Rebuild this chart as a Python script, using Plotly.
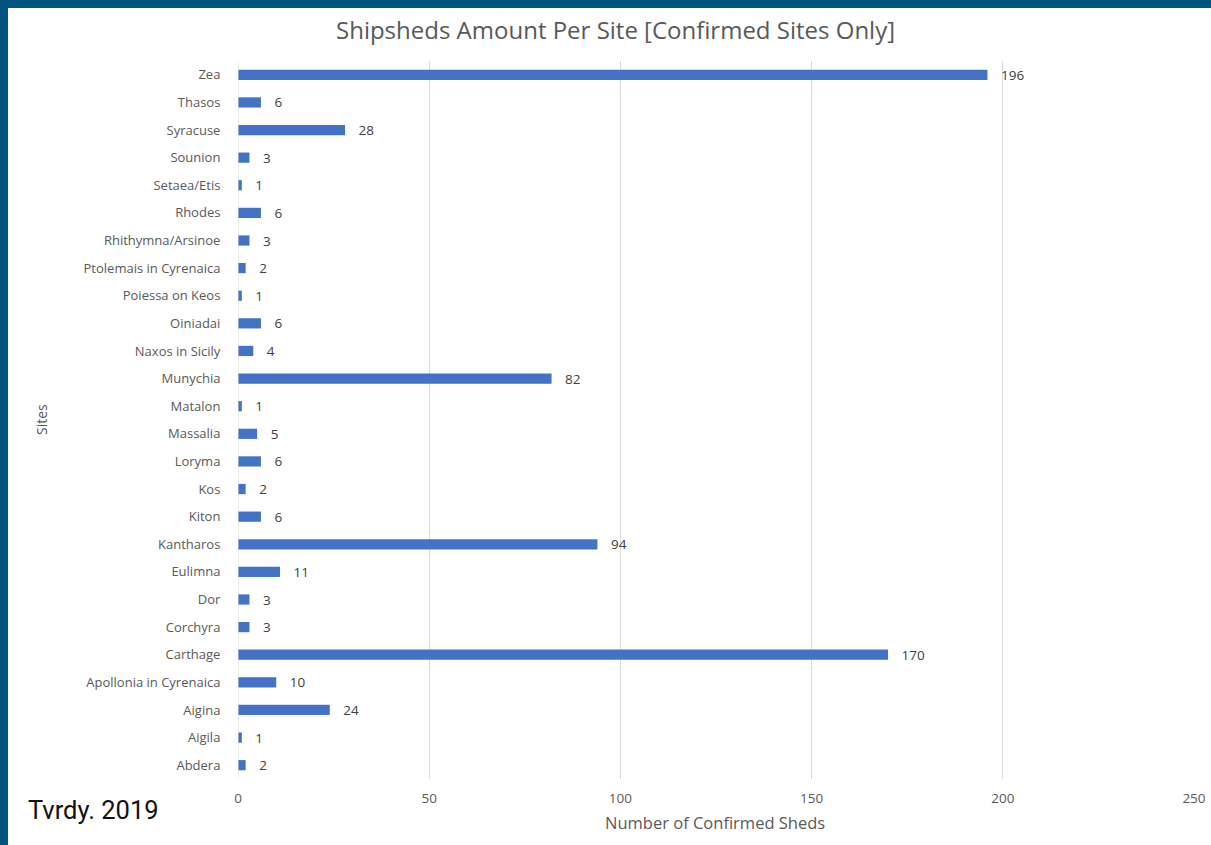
import plotly.graph_objects as go

sites = ["Abdera", "Aigila", "Aigina", "Apollonia in Cyrenaica", "Carthage", "Corchyra", "Dor",
         "Eulimna", "Kantharos", "Kiton", "Kos", "Loryma", "Massalia", "Matalon", "Munychia",
         "Naxos in Sicily", "Oiniadai", "Poiessa on Keos", "Ptolemais in Cyrenaica",
         "Rhithymna/Arsinoe", "Rhodes", "Setaea/Etis", "Sounion", "Syracuse", "Thasos", "Zea"]
sheds = [2, 1, 24, 10, 170, 3, 3, 11, 94, 6, 2, 6, 5, 1, 82, 4, 6, 1, 2, 3, 6, 1, 3, 28, 6, 196]
x_ticks = [0, 50, 100, 150, 200, 250]

W, H = 1211, 845
ML, MR, MT, MB = 238, 17, 61, 66
pw = W - ML - MR
ph = H - MT - MB
FONT = "Open Sans, DejaVu Sans, sans-serif"
GREY = "#595959"
PAD = "\u00a0\u00a0\u00a0"

fig = go.Figure(go.Bar(
    y=sites, x=sheds, orientation="h",
    marker=dict(color="#4472C4", line=dict(width=0)),
    width=0.37,
    text=[PAD + str(v) for v in sheds], textposition="outside",
    constraintext="none",
    textfont=dict(family=FONT, size=13.5, color="#404040"),
    cliponaxis=False,
))

def px_x(p):
    return (p - ML) / pw

def px_y(p):
    return 1 - (p - MT) / ph

border = "#01527F"
fig.update_layout(
    width=W, height=H,
    margin=dict(l=ML, r=MR, t=MT, b=MB, pad=0, autoexpand=False),
    paper_bgcolor="white", plot_bgcolor="white",
    showlegend=False,
    font=dict(family=FONT, color=GREY),
    xaxis=dict(range=[0, 250.01], tickvals=x_ticks, showgrid=True, gridcolor="#d9d9d9", gridwidth=1,
               zeroline=False, showline=False, ticks="outside", ticklen=7, tickcolor="rgba(0,0,0,0)",
               automargin=False, ticklabeloverflow="allow",
               tickfont=dict(size=13.5, color=GREY, family=FONT)),
    yaxis=dict(type="category", categoryorder="array", categoryarray=sites,
               range=[-0.5, len(sites) - 0.5], automargin=False,
               showgrid=False, zeroline=False, showline=False,
               ticks="outside", ticklen=14, tickcolor="rgba(0,0,0,0)",
               tickfont=dict(size=13, color=GREY, family=FONT)),
    shapes=[
        dict(type="line", xref="x", yref="paper", x0=0, x1=0, y0=0, y1=1,
             line=dict(color="#d9d9d9", width=1)),
        dict(type="rect", xref="paper", yref="paper", x0=px_x(0), x1=px_x(W), y0=px_y(8), y1=px_y(0),
             fillcolor=border, line=dict(width=0), layer="above"),
        dict(type="rect", xref="paper", yref="paper", x0=px_x(0), x1=px_x(8), y0=px_y(H), y1=px_y(0),
             fillcolor=border, line=dict(width=0), layer="above"),
    ],
    annotations=[
        dict(text="Shipsheds Amount Per Site [Confirmed Sites Only]", xref="paper", yref="paper",
             x=px_x(615), y=px_y(30), xanchor="center", yanchor="middle", showarrow=False,
             font=dict(size=24, color=GREY, family=FONT)),
        dict(text="Number of Confirmed Sheds", xref="paper", yref="paper",
             x=px_x(715), y=px_y(822), xanchor="center", yanchor="middle", showarrow=False,
             font=dict(size=16.5, color=GREY, family=FONT)),
        dict(text="Sites", xref="paper", yref="paper", textangle=-90,
             x=px_x(41), y=px_y(420), xanchor="center", yanchor="middle", showarrow=False,
             font=dict(size=14, color=GREY, family=FONT)),
        dict(text="Tvrdy. 2019", xref="paper", yref="paper",
             x=px_x(26), y=px_y(810), xanchor="left", yanchor="middle", showarrow=False,
             font=dict(size=25.5, color="#111111", family="Roboto, sans-serif")),
    ],
)

fig.write_html("out.html")
